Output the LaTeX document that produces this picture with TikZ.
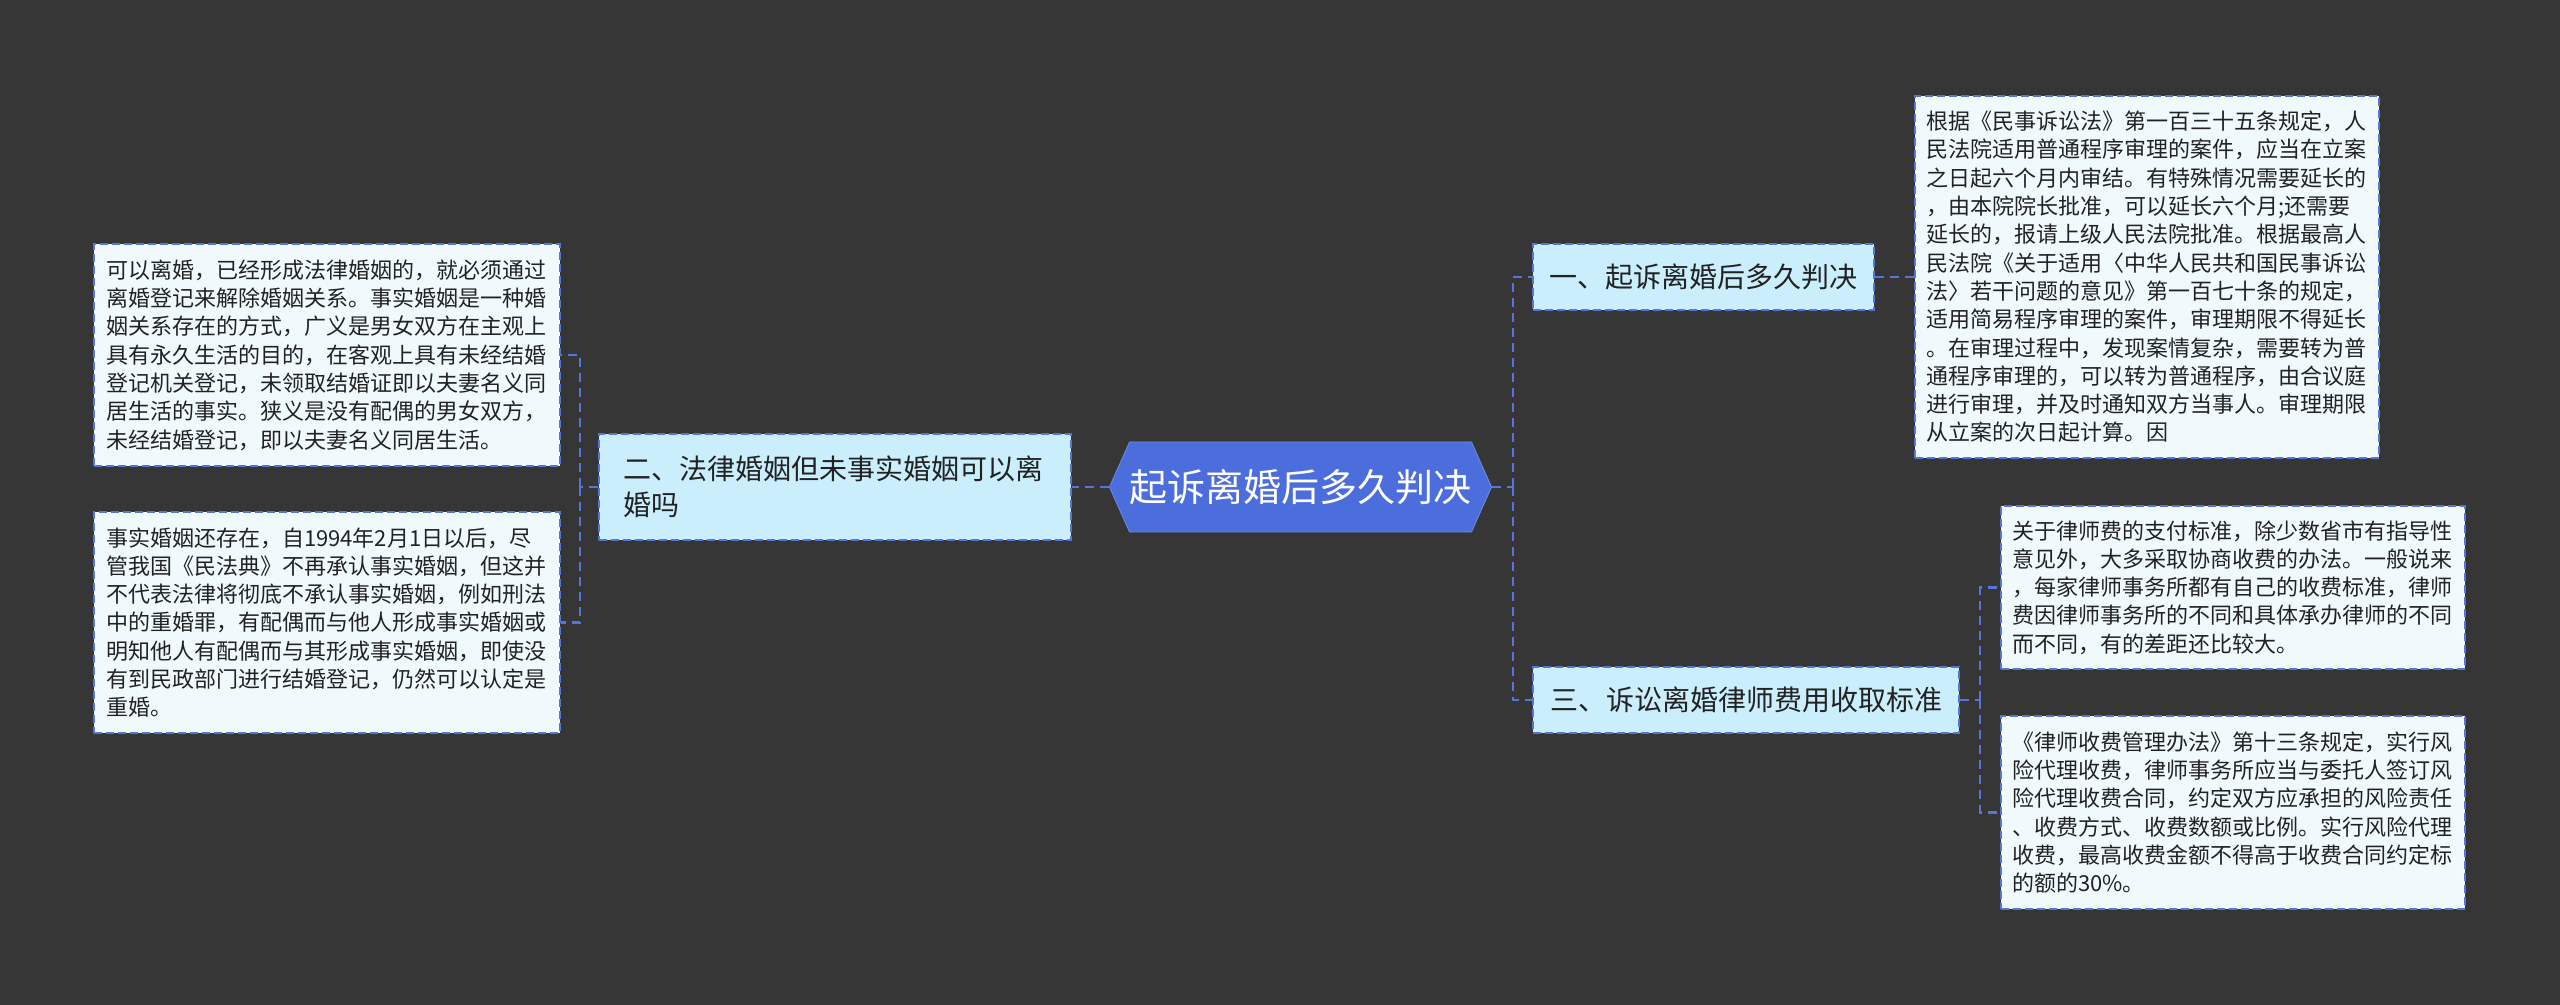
\documentclass[tikz,border=0pt]{standalone}
\usepackage{fontspec}
\setmainfont{Noto Sans CJK SC}
\usepackage{tikz}
\usetikzlibrary{shapes.symbols}
\definecolor{bgdark}{HTML}{363637}
\definecolor{rootblue}{HTML}{4B6EDC}
\definecolor{linkblue}{HTML}{5576D8}
\definecolor{branchfill}{HTML}{CAEEFC}
\definecolor{leaffill}{HTML}{F0FAFD}
\definecolor{inktext}{HTML}{222222}
\tikzstyle{root} = [signal, signal to=east and west, signal pointer angle=132, minimum width=190.5pt, minimum height=45pt, inner sep=0pt, fill=rootblue, draw=rootblue!80!white, text=white, font=\fontsize{19pt}{22pt}\selectfont]
\tikzstyle{branch} = [rectangle, minimum height=33pt, inner sep=0pt, fill=branchfill, draw=linkblue, dash pattern=on 4pt off 2pt, line width=1pt, text=inktext, font=\fontsize{14pt}{18pt}\selectfont]
\tikzstyle{leaf} = [rectangle, minimum width=232pt, inner sep=0pt, text width=221pt, align=left, fill=leaffill, draw=linkblue, dash pattern=on 4pt off 2pt, line width=1pt, text=inktext, font=\fontsize{11pt}{14.15pt}\selectfont]
\tikzstyle{link} = [linkblue, dash pattern=on 4.5pt off 3pt, line width=1.2pt]

\begin{document}
\begin{tikzpicture}[x=0.5pt,y=-0.5pt]
\useasboundingbox[fill=bgdark] (0,0) rectangle (2560,1005);

\node (root) [root] at (1300.5,487) {起诉离婚后多久判决};
\node (b1) [branch, minimum width=170.5pt] at (1703.5,277) {一、起诉离婚后多久判决};
\node (b2) [branch, minimum width=236pt, minimum height=53pt, text width=212pt, align=left] at (835,487) {二、法律婚姻但未事实婚姻可以离\\婚吗};
\node (b3) [branch, minimum width=213pt] at (1746,700) {三、诉讼离婚律师费用收取标准};

\node (r1) [leaf, minimum height=181pt] at (2147,277) {根据《民事诉讼法》第一百三十五条规定，人\\民法院适用普通程序审理的案件，应当在立案\\之日起六个月内审结。有特殊情况需要延长的\\，由本院院长批准，可以延长六个月;还需要\\延长的，报请上级人民法院批准。根据最高人\\民法院《关于适用〈中华人民共和国民事诉讼\\法〉若干问题的意见》第一百七十条的规定，\\适用简易程序审理的案件，审理期限不得延长\\。在审理过程中，发现案情复杂，需要转为普\\通程序审理的，可以转为普通程序，由合议庭\\进行审理，并及时通知双方当事人。审理期限\\从立案的次日起计算。因};
\node (r2) [leaf, minimum height=81.5pt] at (2233,587.5) {关于律师费的支付标准，除少数省市有指导性\\意见外，大多采取协商收费的办法。一般说来\\，每家律师事务所都有自己的收费标准，律师\\费因律师事务所的不同和具体承办律师的不同\\而不同，有的差距还比较大。};
\node (r3) [leaf, minimum height=96.5pt] at (2233,812.5) {《律师收费管理办法》第十三条规定，实行风\\险代理收费，律师事务所应当与委托人签订风\\险代理收费合同，约定双方应承担的风险责任\\、收费方式、收费数额或比例。实行风险代理\\收费，最高收费金额不得高于收费合同约定标\\的额的30\%。};
\node (l1) [leaf, minimum width=233pt, minimum height=111pt] at (327,355) {可以离婚，已经形成法律婚姻的，就必须通过\\离婚登记来解除婚姻关系。事实婚姻是一种婚\\姻关系存在的方式，广义是男女双方在主观上\\具有永久生活的目的，在客观上具有未经结婚\\登记机关登记，未领取结婚证即以夫妻名义同\\居生活的事实。狭义是没有配偶的男女双方，\\未经结婚登记，即以夫妻名义同居生活。};
\node (l2) [leaf, minimum width=233pt, minimum height=110.5pt] at (327,622.5) {事实婚姻还存在，自1994年2月1日以后，尽\\管我国《民法典》不再承认事实婚姻，但这并\\不代表法律将彻底不承认事实婚姻，例如刑法\\中的重婚罪，有配偶而与他人形成事实婚姻或\\明知他人有配偶而与其形成事实婚姻，即使没\\有到民政部门进行结婚登记，仍然可以认定是\\重婚。};

\coordinate (rsp) at (1513,487);
\coordinate (lsp) at (580,487);
\coordinate (r3sp) at (1980,700);

\draw [link] (root.west) -- (b2.east);
\draw [link] (root.east) -- (rsp);
\draw [link] (rsp) |- (b1.west);
\draw [link] (rsp) |- (b3.west);
\draw [link] (b2.west) -- (lsp);
\draw [link] (lsp) |- (l1.east);
\draw [link] (lsp) |- (l2.east);
\draw [link] (b1.east) -- (r1.west);
\draw [link] (b3.east) -- (r3sp);
\draw [link] (r3sp) |- (r2.west);
\draw [link] (r3sp) |- (r3.west);
\end{tikzpicture}
\end{document}
